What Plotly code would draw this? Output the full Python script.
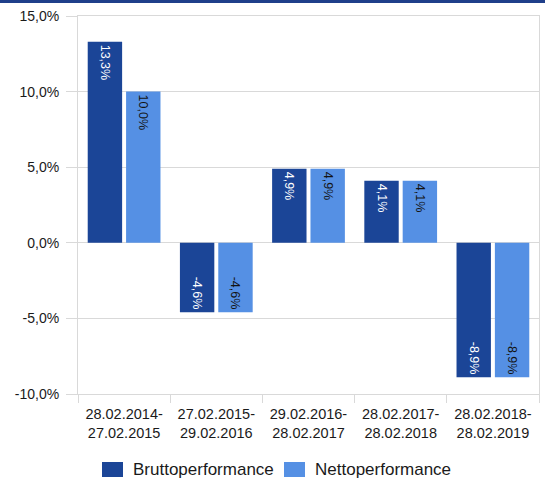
import plotly.graph_objects as go

categories = ["28.02.2014-<br>27.02.2015", "27.02.2015-<br>29.02.2016", "29.02.2016-<br>28.02.2017",
              "28.02.2017-<br>28.02.2018", "28.02.2018-<br>28.02.2019"]
brutto = [13.3, -4.6, 4.9, 4.1, -8.9]
netto = [10.0, -4.6, 4.9, 4.1, -8.9]
tick_vals = [-10, -5, 0, 5, 10, 15]
series_names = ["Bruttoperformance", "Nettoperformance"]
series_colors = ["#1b4597", "#5590e4"]


def fmt(v):
    return f"{v:.1f}".replace(".", ",") + "%"


FONT = "Liberation Sans"
L, R, T, B = 78, 6, 16, 87
W, H = 545, 481
PW, PH = W - L - R, H - T - B


def px_x(px):
    return (px - L) / PW


def px_y(py):
    return (H - B - py) / PH


fig = go.Figure()
for vals, name, color, tcol in [(brutto, series_names[0], series_colors[0], "white"),
                                (netto, series_names[1], series_colors[1], "#141414")]:
    fig.add_trace(go.Bar(
        x=categories, y=vals, name=name,
        marker=dict(color=color, line=dict(width=0)),
        text=[fmt(v) for v in vals], textposition="inside", insidetextanchor="end",
        textangle=90, textfont=dict(color=tcol, size=12.5, family=FONT),
        showlegend=False,
    ))

shapes = [dict(type="line", xref="paper", yref="paper", x0=px_x(0), x1=px_x(W),
               y0=px_y(1.5), y1=px_y(1.5), line=dict(color="#1f3f8a", width=3))]
annotations = []
legend_pos = [(102, 131), (284, 313)]
for (sx, tx), name, color in zip(legend_pos, series_names, series_colors):
    shapes.append(dict(type="rect", xref="paper", yref="paper",
                       x0=px_x(sx), x1=px_x(sx + 21), y0=px_y(477), y1=px_y(462),
                       fillcolor=color, line=dict(width=0)))
    annotations.append(dict(xref="paper", yref="paper", x=px_x(tx), y=px_y(469.5),
                            xanchor="left", yanchor="middle", showarrow=False,
                            text=name, font=dict(family=FONT, size=17, color="#1a1a1a")))

fig.update_layout(
    width=W, height=H,
    margin=dict(l=L, r=R, t=T, b=B, autoexpand=False),
    paper_bgcolor="white", plot_bgcolor="white",
    barmode="group", bargap=0.168, bargroupgap=0.103,
    font=dict(family=FONT, size=14, color="#222222"),
    showlegend=False,
    shapes=shapes, annotations=annotations,
)
fig.update_yaxes(range=[-10, 15], tickvals=tick_vals, ticktext=[fmt(v) for v in tick_vals],
                 showgrid=True, gridcolor="#d9d9d9", gridwidth=1,
                 showline=True, linecolor="#d9d9d9", mirror=True,
                 ticks="outside", ticklen=11, tickcolor="#d9d9d9", zeroline=False,
                 ticklabelstandoff=4,
                 tickfont=dict(size=14, color="#1a1a1a"), automargin=False)
fig.update_xaxes(showline=True, linecolor="#d9d9d9", mirror=True,
                 ticks="outside", tickson="boundaries", ticklen=8, tickcolor="#d9d9d9",
                 ticklabelstandoff=7,
                 tickfont=dict(size=14.5, color="#1a1a1a"), automargin=False)

fig.write_html("out.html")
